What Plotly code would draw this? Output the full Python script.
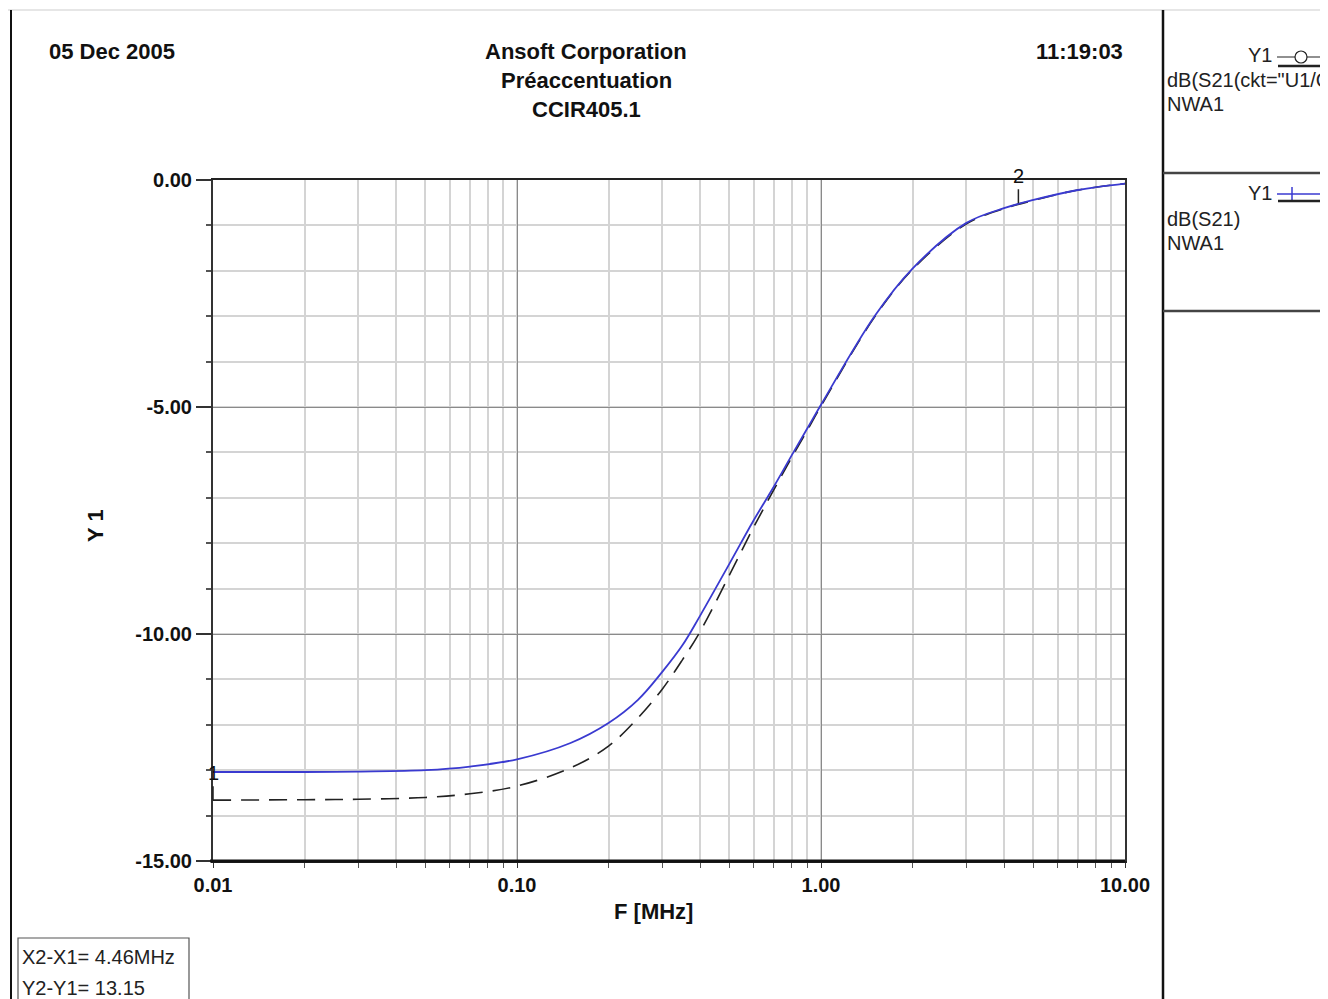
import math
import plotly.graph_objects as go

# --- data (Ansoft Designer, pre-emphasis CCIR405.1) ---
freq_mhz = [0.01, 0.02, 0.03, 0.05, 0.07, 0.1, 0.15, 0.2, 0.25, 0.3, 0.35, 0.4,
            0.5, 0.6, 0.7, 0.8, 0.9, 1.0, 1.5, 2.0, 3.0, 4.0, 5.0, 7.0, 10.0]
s21_nwa = [-13.04, -13.04, -13.03, -13.0, -12.92, -12.76, -12.4, -11.96, -11.45,
           -10.84, -10.25, -9.6, -8.45, -7.5, -6.75, -6.07, -5.48, -4.95, -3.0,
           -1.95, -0.95, -0.62, -0.44, -0.22, -0.08]
s21_ckt = [-13.66, -13.65, -13.64, -13.6, -13.52, -13.35, -12.95, -12.47, -11.85,
           -11.22, -10.57, -9.95, -8.7, -7.65, -6.82, -6.12, -5.52, -4.98, -3.02,
           -1.97, -0.97, -0.63, -0.45, -0.22, -0.08]
x_ticks = [0.01, 0.1, 1.0, 10.0]
x_ticktext = ['0.01', '0.10', '1.00', '10.00']
y_ticks = [0, -5, -10, -15]
y_ticktext = ['0.00', '-5.00', '-10.00', '-15.00']
marker_x = [0.01, 4.46]
marker_y = [-13.66, -0.51]
marker_lbl = ['1', '2']

OFF = 8                                   # page body margin in the browser
W, H = 1328 - OFF, 999 - OFF
L, R, T, B = 213, 1125, 180, 861          # plot area, in reference pixels
NARROW = 'Liberation Sans Narrow, Arial Narrow, Liberation Sans, Arial, sans-serif'
SANS = 'Liberation Sans, Arial, sans-serif'


def px(x):
    return (x - L) / (R - L)


def py(y):
    return (B - y) / (B - T)


fig = go.Figure()
fig.add_trace(go.Scatter(x=freq_mhz, y=s21_ckt, mode='lines', line_shape='spline',
                         line=dict(color='#222222', width=1.6, dash='18px,10px'),
                         showlegend=False))
fig.add_trace(go.Scatter(x=freq_mhz, y=s21_nwa, mode='lines', line_shape='spline',
                         line=dict(color='#3a3ad0', width=1.8), showlegend=False))

# marker flags 1 and 2 (log axis -> annotation x in log10 units)
for mx, my, lbl in zip(marker_x, marker_y, marker_lbl):
    fig.add_annotation(x=math.log10(mx), y=my, xref='x', yref='y', text=lbl, showarrow=True,
                       arrowhead=0, arrowwidth=1.5, arrowcolor='#222', ax=0, ay=-14,
                       yanchor='bottom', font=dict(family=SANS, size=20, color='#111'))

# header texts
hdr = dict(xref='paper', yref='paper', showarrow=False,
           font=dict(family=NARROW, size=22, color='#111', weight='bold'))
fig.add_annotation(x=px(47), y=py(51), text='05 Dec 2005', xanchor='left', yanchor='middle', **hdr)
fig.add_annotation(x=px(1125), y=py(51), text='11:19:03', xanchor='right', yanchor='middle', **hdr)
for yy, txt in [(51, 'Ansoft Corporation'), (81, 'Préaccentuation'), (109, 'CCIR405.1')]:
    fig.add_annotation(x=px(586), y=py(yy), text=txt, xanchor='center', yanchor='middle', **hdr)

# axis titles
fig.add_annotation(x=px(653), y=py(912), text='F [MHz]', xanchor='center', yanchor='middle', **hdr)
fig.add_annotation(x=px(95), y=py(525), text='Y 1', textangle=-90, xanchor='center',
                   yanchor='middle', **hdr)

# right-hand legend panel (first label runs past the window edge, as in the reference)
leg = dict(xref='paper', yref='paper', showarrow=False,
           font=dict(family=SANS, size=20, color='#222'))
fig.add_annotation(x=px(1274), y=py(55), text='Y1', xanchor='right', yanchor='middle', **leg)
fig.add_annotation(x=px(1165), y=py(80), text='dB(S21(ckt="U1/CCIR405.1"))', xanchor='left', yanchor='middle', **leg)
fig.add_annotation(x=px(1165), y=py(104), text='NWA1', xanchor='left', yanchor='middle', **leg)
fig.add_annotation(x=px(1274), y=py(193), text='Y1', xanchor='right', yanchor='middle', **leg)
fig.add_annotation(x=px(1165), y=py(219), text='dB(S21)', xanchor='left', yanchor='middle', **leg)
fig.add_annotation(x=px(1165), y=py(243), text='NWA1', xanchor='left', yanchor='middle', **leg)

# bottom-left delta marker box
fig.add_annotation(x=px(20), y=py(957), text='X2-X1= 4.46MHz', xanchor='left', yanchor='middle', **leg)
fig.add_annotation(x=px(20), y=py(988), text='Y2-Y1= 13.15', xanchor='left', yanchor='middle', **leg)

shapes = []


def seg(x0, y0, x1, y1, color='#111', width=2):
    shapes.append(dict(type='line', xref='paper', yref='paper', x0=px(x0), y0=py(y0),
                       x1=px(x1), y1=py(y1), line=dict(color=color, width=width)))


seg(0, 10, 1328, 10, '#e6e6e6', 2)          # window top edge
seg(11, 10, 11, 1010, '#111', 2)            # left frame
seg(1163, 10, 1163, 1010, '#111', 2.5)      # legend divider
seg(1163, 173, 1340, 173, '#444', 2.5)
seg(1163, 311, 1340, 311, '#444', 2.5)
# legend symbols
seg(1277, 57, 1340, 57, '#222', 1.2)
seg(1278, 66, 1340, 66, '#222', 2.5)
seg(1277, 194, 1340, 194, '#3a3ad0', 1.5)
seg(1292, 187, 1292, 201, '#3a3ad0', 1.5)
seg(1278, 201, 1340, 201, '#222', 2.5)
shapes.append(dict(type='circle', xref='paper', yref='paper', x0=px(1295), x1=px(1307),
                   y0=py(63), y1=py(51), line=dict(color='#222', width=1.2),
                   fillcolor='white'))
# delta box
shapes.append(dict(type='rect', xref='paper', yref='paper', x0=px(18), x1=px(189),
                   y0=py(1010), y1=py(938), line=dict(color='#555', width=1.2)))
# heavy bottom axis line
seg(L - 3, B, R, B, '#111', 3)
fig.update_layout(shapes=shapes)

fig.update_xaxes(type='log', range=[-2, 1], tickvals=x_ticks, ticktext=x_ticktext,
                 showgrid=True, gridcolor='#8a8a8a', gridwidth=1,
                 ticks='outside', ticklen=5, tickcolor='#333', tickwidth=1,
                 minor=dict(dtick='D1', showgrid=True, gridcolor='#d4d4d4', gridwidth=2,
                            ticks='outside', ticklen=5, tickcolor='#555'),
                 showline=True, linecolor='#222', linewidth=2, mirror=True,
                 zeroline=False,
                 tickfont=dict(family=NARROW, size=20, color='#111', weight='bold'))
fig.update_yaxes(range=[-15, 0], tickvals=y_ticks, ticktext=y_ticktext,
                 showgrid=True, gridcolor='#8a8a8a', gridwidth=1,
                 ticks='outside', ticklen=15, tickcolor='#333', tickwidth=1.5,
                 minor=dict(dtick=1, showgrid=True, gridcolor='#d4d4d4', gridwidth=2,
                            ticks='outside', ticklen=5, tickcolor='#555'),
                 showline=True, linecolor='#333', linewidth=2, mirror=True,
                 zeroline=False,
                 tickfont=dict(family=NARROW, size=20, color='#111', weight='bold'))

fig.update_layout(width=W, height=H, autosize=False,
                  margin=dict(l=L - OFF, r=1328 - R, t=T - OFF, b=999 - B, pad=0),
                  plot_bgcolor='white', paper_bgcolor='white', showlegend=False)
fig.write_html('out.html')
